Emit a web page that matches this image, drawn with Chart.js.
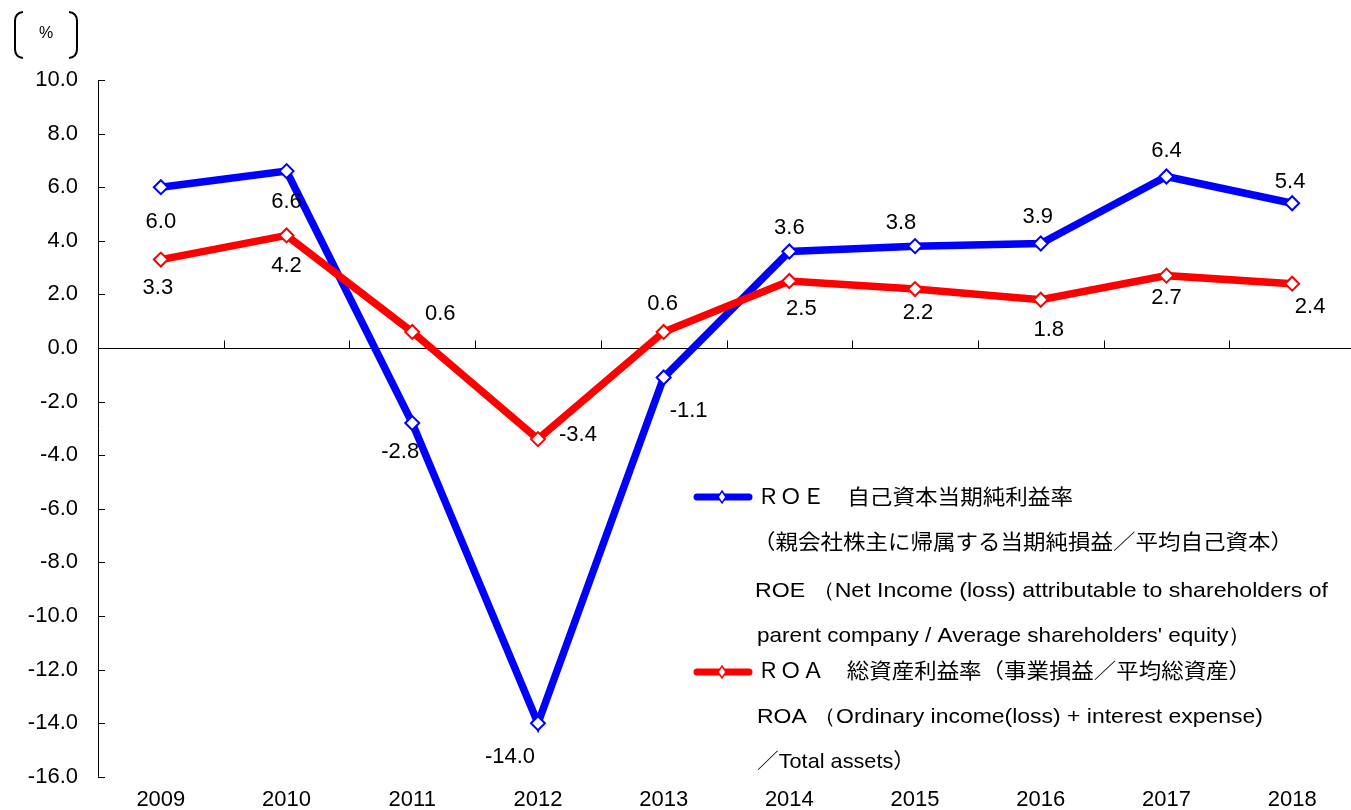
<!DOCTYPE html>
<html><head><meta charset="utf-8">
<script src="https://cdn.jsdelivr.net/npm/chart.js@4/dist/chart.umd.min.js"></script>
<style>html,body{margin:0;padding:0;background:#fff;overflow:hidden;}#wrap{width:1351px;height:810px;overflow:hidden;}</style>
</head><body><div id="wrap"><canvas id="c" width="1380" height="810"></canvas></div>
<script>
const years = ['2009','2010','2011','2012','2013','2014','2015','2016','2017','2018'];
const roe = [6.0, 6.6, -2.8, -14.0, -1.1, 3.6, 3.8, 3.9, 6.4, 5.4];
const roa = [3.3, 4.2, 0.6, -3.4, 0.6, 2.5, 2.2, 1.8, 2.7, 2.4];
const yTicks = [10,8,6,4,2,0,-2,-4,-6,-8,-10,-12,-14,-16];
const legendLines = [
  'ＲＯＥ　自己資本当期純利益率',
  '（親会社株主に帰属する当期純損益／平均自己資本）',
  'ROE （Net Income (loss) attributable to shareholders of',
  "parent company / Average shareholders' equity）",
  'ＲＯＡ　総資産利益率（事業損益／平均総資産）',
  'ROA （Ordinary income(loss) + interest expense)',
  '／Total assets）'
];

// label offsets relative to each point (dx, dy)
const roeLabelOff = [[0,35],[0,31],[-12,29],[-28,34],[25,33],[0,-24],[-14,-23],[-3,-27],[0,-26],[-2,-21]];
const roaLabelOff = [[-3,28],[0,30],[28,-18],[40,-4],[-1,-28],[12,28],[3,24],[8,30],[0,22],[18,23]];

const LF = '"Liberation Sans", Arial, sans-serif';
const CJK = '"Liberation Sans", "Noto Sans CJK JP", sans-serif';

const decor = {
  id: 'decor',
  beforeDatasetsDraw(chart) {
    const {ctx, chartArea: a, scales: {x, y}} = chart;
    ctx.save();
    ctx.strokeStyle = '#000';
    ctx.lineWidth = 1;
    ctx.beginPath();
    ctx.moveTo(a.left + 0.5, a.top);
    ctx.lineTo(a.left + 0.5, a.bottom);
    yTicks.forEach(v => {
      const py = Math.round(y.getPixelForValue(v)) + 0.5;
      ctx.moveTo(a.left, py); ctx.lineTo(a.left + 7, py);
    });
    ctx.stroke();
    const zy = Math.round(y.getPixelForValue(0)) + 0.5;
    ctx.beginPath();
    ctx.moveTo(a.left, zy); ctx.lineTo(a.right, zy);
    const step = (a.right - a.left) / years.length;
    for (let i = 1; i < years.length; i++) {
      const px = Math.round(a.left + i * step) + 0.5;
      ctx.moveTo(px, zy); ctx.lineTo(px, zy - 8);
    }
    ctx.stroke();
    ctx.restore();
  },
  afterDatasetsDraw(chart) {
    const {ctx} = chart;
    ctx.save();
    ctx.fillStyle = '#000';
    ctx.font = '22px ' + LF;
    ctx.textAlign = 'center';
    ctx.textBaseline = 'middle';
    [[0, roe, roeLabelOff], [1, roa, roaLabelOff]].forEach(([di, vals, offs]) => {
      const meta = chart.getDatasetMeta(di);
      meta.data.forEach((pt, i) => {
        ctx.fillText(vals[i].toFixed(1), pt.x + offs[i][0], pt.y + offs[i][1]);
      });
    });
    ctx.restore();
  },
  afterDraw(chart) {
    const {ctx} = chart;
    ctx.save();
    ctx.strokeStyle = '#000';
    ctx.lineWidth = 2;
    ctx.beginPath();
    ctx.moveTo(23, 12); ctx.quadraticCurveTo(15, 13, 15, 21);
    ctx.lineTo(15, 49); ctx.quadraticCurveTo(15, 57, 23, 58);
    ctx.moveTo(69, 12); ctx.quadraticCurveTo(77, 13, 77, 21);
    ctx.lineTo(77, 49); ctx.quadraticCurveTo(77, 57, 69, 58);
    ctx.stroke();
    ctx.fillStyle = '#000';
    ctx.font = '16px ' + LF;
    ctx.textAlign = 'center';
    ctx.textBaseline = 'middle';
    ctx.fillText('%', 46, 34);

    const drawMarker = (color, cy) => {
      ctx.strokeStyle = color;
      ctx.lineWidth = 7;
      ctx.lineCap = 'round';
      ctx.beginPath();
      ctx.moveTo(697, cy); ctx.lineTo(749, cy);
      ctx.stroke();
      ctx.lineCap = 'butt';
      ctx.fillStyle = '#fff';
      ctx.lineWidth = 1.5;
      ctx.beginPath();
      ctx.moveTo(722, cy - 6); ctx.lineTo(726, cy); ctx.lineTo(722, cy + 6); ctx.lineTo(718, cy);
      ctx.closePath();
      ctx.fill(); ctx.stroke();
    };
    drawMarker('#0000ff', 497);
    drawMarker('#ff0000', 672);

    const fit = (text, x, cy, font, w) => {
      ctx.font = font;
      const m = ctx.measureText(text).width;
      const s = w / m;
      ctx.save();
      ctx.translate(x, cy);
      ctx.scale(s, 1);
      ctx.fillStyle = '#000';
      ctx.textAlign = 'left';
      ctx.textBaseline = 'middle';
      ctx.fillText(text, 0, 0);
      ctx.restore();
    };
    fit(legendLines[0], 757, 498, '21px ' + CJK, 316);
    fit(legendLines[1], 753, 543, '21px ' + CJK, 540);
    fit(legendLines[2], 755, 591, '21px ' + LF, 573);
    fit(legendLines[3], 757, 636, '21px ' + LF, 494);
    fit(legendLines[4], 757, 672, '21px ' + CJK, 494);
    fit(legendLines[5], 757, 717, '21px ' + LF, 506);
    fit(legendLines[6], 757, 762, '21px ' + CJK, 158);
    ctx.restore();
  }
};

const chart = new Chart(document.getElementById('c'), {
  type: 'line',
  data: {
    labels: years,
    datasets: [
      {
        label: 'ROE', data: roe, order: 2,
        borderColor: '#0000ff', borderWidth: 7.5, tension: 0,
        pointStyle: 'rectRot', pointRadius: 7, pointBackgroundColor: '#fff',
        pointBorderColor: '#0000ff', pointBorderWidth: 2
      },
      {
        label: 'ROA', data: roa, order: 1,
        borderColor: '#ff0000', borderWidth: 7.5, tension: 0,
        pointStyle: 'rectRot', pointRadius: 7, pointBackgroundColor: '#fff',
        pointBorderColor: '#ff0000', pointBorderWidth: 2
      }
    ]
  },
  options: {
    responsive: false,
    animation: false,
    layout: { padding: { left: 0, right: 25, top: 80, bottom: 0 } },
    plugins: { legend: { display: false }, tooltip: { enabled: false } },
    scales: {
      x: {
        offset: true,
        grid: { display: false, drawTicks: false },
        border: { display: false },
        ticks: { color: '#000', font: { family: 'Liberation Sans', size: 22 }, padding: 10, maxRotation: 0 },
        afterFit(s) { s.height = 30; }
      },
      y: {
        min: -16, max: 10,
        grid: { display: false, drawTicks: false },
        border: { display: false },
        ticks: {
          stepSize: 2, color: '#000', padding: 20,
          font: { family: 'Liberation Sans', size: 22 },
          callback: v => v.toFixed(1)
        },
        afterFit(s) { s.width = 98; }
      }
    }
  }
  ,plugins: [decor]
});
// align plot right edge so the category spacing matches the reference
const wantRight = 1355;
const diff = chart.chartArea.right - wantRight;
if (Math.abs(diff) > 0.5) {
  chart.options.layout.padding.right = Math.max(0, chart.options.layout.padding.right + diff);
  chart.update();
}
</script>
</body></html>
